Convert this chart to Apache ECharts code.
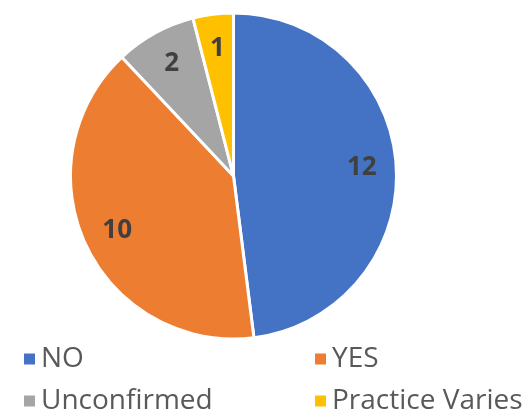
<!DOCTYPE html>
<html>
<head>
<meta charset="utf-8">
<script src="https://cdn.jsdelivr.net/npm/echarts@6/dist/echarts.min.js"></script>
<style>
  html, body { margin: 0; padding: 0; background: #fff; }
  #chart { width: 529px; height: 410px; }
</style>
</head>
<body>
<div id="chart"></div>
<script>
  // 饼图数据
  var categories = ['NO', 'YES', 'Unconfirmed', 'Practice Varies'];
  var values = [12, 10, 2, 1];
  var colors = ['#4472C4', '#ED7D31', '#A5A5A5', '#FFC000'];

  var pieData = categories.map(function (name, i) {
    return { name: name, value: values[i] };
  });

  var myChart = echarts.init(document.getElementById('chart'));

  var legendText = {
    fontFamily: 'Open Sans',
    fontSize: 28,
    color: '#595959'
  };

  var option = {
    color: colors,
    animation: false,
    legend: [
      {
        data: ['NO', 'Unconfirmed'],
        orient: 'vertical',
        left: 17,
        top: 340,
        height: 120,
        itemWidth: 13,
        itemHeight: 13,
        itemGap: 14,
        icon: 'rect',
        textStyle: legendText
      },
      {
        data: ['YES', 'Practice Varies'],
        orient: 'vertical',
        left: 308,
        top: 340,
        height: 120,
        itemWidth: 13,
        itemHeight: 13,
        itemGap: 14,
        icon: 'rect',
        textStyle: legendText
      }
    ],
    series: [
      {
        type: 'pie',
        center: [233.5, 176],
        radius: 163,
        startAngle: 90,
        clockwise: true,
        silent: true,
        data: pieData,
        itemStyle: {
          borderColor: '#fff',
          borderWidth: 3
        },
        label: { show: false },
        labelLine: { show: false }
      },
      {
        // 只用来放数据标签
        type: 'pie',
        center: [233.5, 176],
        radius: [88, 163],
        startAngle: 90,
        clockwise: true,
        silent: true,
        data: pieData,
        itemStyle: { color: 'rgba(0,0,0,0)' },
        label: {
          show: true,
          position: 'inside',
          formatter: '{c}',
          fontFamily: 'Open Sans',
          fontWeight: 'bold',
          fontSize: 26,
          color: '#404040'
        },
        labelLine: { show: false }
      }
    ]
  };
  myChart.setOption(option);
</script>
</body>
</html>
